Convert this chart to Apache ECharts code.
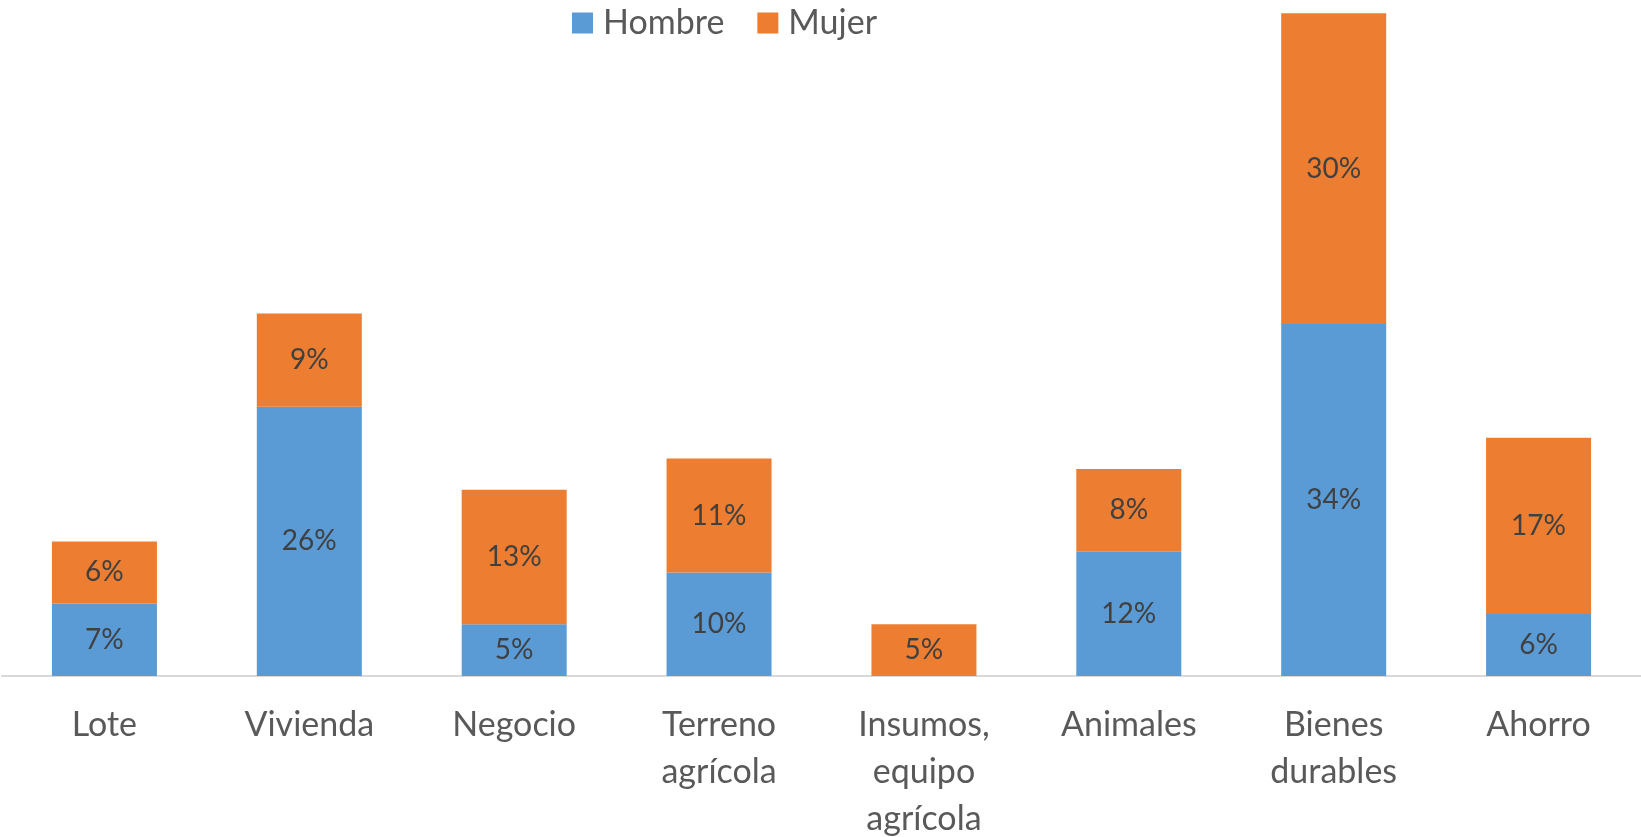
<!DOCTYPE html>
<html><head><meta charset="utf-8">
<script src="https://cdn.jsdelivr.net/npm/echarts@6/dist/echarts.min.js"></script>
<style>html,body{margin:0;padding:0;background:#fff}#c{width:1641px;height:837px}</style>
</head><body><div id="c"></div>
<script>
const categories = ["Lote","Vivienda","Negocio","Terreno agrícola","Insumos, equipo agrícola","Animales","Bienes durables","Ahorro"];
const tickLabels = ["Lote","Vivienda","Negocio","Terreno\nagrícola","Insumos,\nequipo\nagrícola","Animales","Bienes\ndurables","Ahorro"];
const hombre = [7,26,5,10,0,12,34,6];
const mujer = [6,9,13,11,5,8,30,17];
const FONT = "Lato";
const chart = echarts.init(document.getElementById('c'));
const lbl = {show:true,position:'inside',color:'#404040',fontFamily:FONT,fontSize:28,
  formatter:p=>p.value?p.value+'%':''};
chart.setOption({
  animation:false,
  textStyle:{fontFamily:FONT},
  legend:{top:1,left:567,itemWidth:21,itemHeight:21,itemGap:33,icon:'rect',
    textStyle:{color:'#595959',fontSize:34,fontFamily:FONT,padding:[0,0,0,5]},data:['Hombre','Mujer']},
  grid:{left:2,right:0,top:3,bottom:161,containLabel:false,outerBoundsMode:'none'},
  xAxis:{type:'category',data:categories,
    axisLine:{lineStyle:{color:'#D9D9D9',width:2}},axisTick:{show:false},
    axisLabel:{interval:0,margin:26,color:'#595959',fontSize:34,lineHeight:47,fontFamily:FONT,
      formatter:(v,i)=>tickLabels[i]}},
  yAxis:{type:'value',min:0,max:65,show:false,splitLine:{show:false}},
  series:[
    {name:'Hombre',type:'bar',stack:'a',data:hombre,barWidth:105,itemStyle:{color:'#5B9BD5'},label:lbl},
    {name:'Mujer',type:'bar',stack:'a',data:mujer,barWidth:105,itemStyle:{color:'#ED7D31'},label:lbl}
  ]
});
</script></body></html>
